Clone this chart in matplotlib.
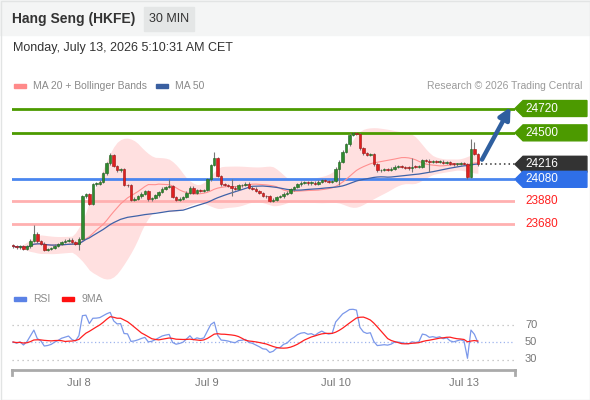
import matplotlib
matplotlib.use("Agg")
import matplotlib.pyplot as plt
import matplotlib.transforms as mtransforms
from matplotlib.patches import Rectangle, Polygon
import numpy as np
import pandas as pd

plt.rcParams['font.family'] = ['Liberation Sans', 'DejaVu Sans']

# 30 min closes, Jul 7 (night) .. Jul 13
closes = [23475, 23465, 23475, 23450, 23475, 23525, 23590, 23520, 23500, 23445,
          23450, 23460, 23480, 23495, 23515, 23525, 23535, 23510, 23500, 23545,
          23925, 23945, 23860, 24035, 24040, 24060, 24135, 24225, 24300, 24200,
          24160, 24170, 24030, 24025, 23895, 23905, 23925, 23950, 23970, 23900,
          23910, 23935, 23965, 23995, 24010, 24020, 23920, 23895, 23905, 23920,
          23960, 24005, 23960, 23985, 23975, 23985, 24080, 24210, 24270, 24110,
          24035, 24030, 24020, 24005, 23995, 24025, 24030, 24040, 24005, 23995,
          23975, 23955, 23930, 23925, 23885, 23895, 23920, 23925, 23950, 23960,
          23990, 24010, 24035, 24050, 24055, 24045, 24050, 24040, 24060, 24075,
          24065, 24060, 24065, 24175, 24240, 24330, 24395, 24485, 24495, 24490,
          24360, 24315, 24300, 24310, 24215, 24160, 24165, 24170, 24165, 24175,
          24195, 24195, 24190, 24185, 24180, 24195, 24190, 24195, 24255, 24250,
          24235, 24240, 24235, 24240, 24230, 24235, 24220, 24215, 24220, 24225,
          24220, 24105, 24350, 24310, 24216]
first_open = 23480
# visible long wicks
wick_high = {6: 23670, 28: 24320, 45: 24085, 58: 24330, 63: 24085, 98: 24510,
             115: 24270, 132: 24440, 133: 24420}
wick_low = {19: 23440, 63: 23925, 94: 24030, 115: 24150, 120: 24150, 131: 24085}

resistances = [24720, 24500]
supports = [23880, 23680]
pivot = 24080
last_price = 24216
target = 24720

day_ticks = [19, 56, 93, 130]
day_labels = ['Jul 8', 'Jul 9', 'Jul 10', 'Jul 13']
rsi_levels = [70, 50, 30]
rsi_seed = 15  # avg gain / loss carried in from before the window

W, H = 590, 400
fig = plt.figure(figsize=(W / 100, H / 100), dpi=100)


def fx(px):
    return px / W


def fy(py):
    return 1 - py / H


# header
fig.patches.append(Rectangle((0, fy(35)), 1, 35 / H, transform=fig.transFigure,
                             color='#f4f5f5', zorder=0))
fig.patches.append(Rectangle((fx(0.5), fy(399.5)), fx(589), 399 / H, transform=fig.transFigure,
                             fill=False, edgecolor='#e2e4e4', lw=1, zorder=0))
fig.patches.append(Rectangle((fx(144), fy(31)), 50 / W, 24 / H, transform=fig.transFigure,
                             color='#e4e6e6', zorder=1))
fig.text(fx(12), fy(19), 'Hang Seng (HKFE)', fontsize=10, fontweight='bold',
         color='#333333', va='center')
fig.text(fx(169), fy(19), '30 MIN', fontsize=9, color='#333333', va='center', ha='center')
fig.text(fx(13), fy(48), 'Monday, July 13, 2026 5:10:31 AM CET', fontsize=9,
         color='#333333', va='center')

# legends
fig.patches.append(Rectangle((fx(14), fy(88)), 12 / W, 4 / H, transform=fig.transFigure,
                             color='#ff8a8a'))
fig.text(fx(33), fy(86), 'MA 20 + Bollinger Bands', fontsize=7.5, color='#8a8a8a', va='center')
fig.patches.append(Rectangle((fx(156), fy(88)), 12 / W, 4 / H, transform=fig.transFigure,
                             color='#3a5fa0'))
fig.text(fx(175), fy(86), 'MA 50', fontsize=7.5, color='#8a8a8a', va='center')
fig.text(fx(582), fy(86), 'Research \u00a9 2026 Trading Central', fontsize=7.5,
         color='#9a9a9a', va='center', ha='right')

fig.patches.append(Rectangle((fx(14), fy(301)), 12 / W, 4 / H, transform=fig.transFigure,
                             color='#5b82e6'))
fig.text(fx(33), fy(299), 'RSI', fontsize=7.5, color='#8a8a8a', va='center')
fig.patches.append(Rectangle((fx(62), fy(301)), 12 / W, 4 / H, transform=fig.transFigure,
                             color='#ff1010'))
fig.text(fx(81), fy(299), '9MA', fontsize=7.5, color='#8a8a8a', va='center')

# ---- price panel
ax = fig.add_axes([fx(12), fy(285), 503 / W, 190 / H])
c = pd.Series(closes, dtype=float)
x = np.arange(len(c))
o = c.shift(1).fillna(first_open)

ma20 = c.rolling(20, min_periods=1).mean()
sd20 = c.rolling(20, min_periods=1).std(ddof=0)
upper = (ma20 + 2 * sd20).rolling(5, min_periods=1, center=True).mean()
lower = (ma20 - 2 * sd20).rolling(5, min_periods=1, center=True).mean()
ma50 = c.rolling(50, min_periods=1).mean()

ax.fill_between(x, lower, upper, color='#ffe0e0', lw=0, zorder=1)
ax.plot(x, ma20, color='#ff9090', lw=0.8, zorder=3)
ax.plot(x, ma50, color='#3f62a8', lw=0.9, zorder=3)

for lvl in resistances:
    ax.axhline(lvl, color='#4c9a00', lw=2, zorder=2)
for lvl in supports:
    ax.axhline(lvl, color='#ffb0b0', lw=2, zorder=2)
ax.axhline(pivot, color='#4a86ef', lw=2, zorder=2)

hi = np.maximum(o, c) + 12
lo = np.minimum(o, c) - 12
for k, v in wick_high.items():
    hi[k] = v
for k, v in wick_low.items():
    lo[k] = v
up = c >= o
ax.vlines(x, lo, hi, color='#777777', lw=0.8, zorder=4)
body = np.maximum((c - o).abs(), 8)
ax.bar(x[up], body[up], bottom=np.minimum(o, c)[up], width=0.72,
       color='#2e8b2e', edgecolor='#1f5f1f', lw=0.4, zorder=5)
ax.bar(x[~up], body[~up], bottom=np.minimum(o, c)[~up], width=0.72,
       color='#e02020', edgecolor='#9a1515', lw=0.4, zorder=5)

xmin, xmax = -0.3, 144.7
ax.set_xlim(xmin, xmax)
ax.set_ylim(23125, 24842)
ax.axis('off')

ax.plot([x[-1] + 0.8, xmax], [last_price, last_price], ls=(0, (1, 2)), color='#333333',
        lw=1.1, zorder=4)
ax.annotate('', xy=(143.8, target + 35), xytext=(x[-1] + 0.8, last_price + 20),
            arrowprops=dict(arrowstyle='-|>', color='#2f5f9f', lw=3.2, mutation_scale=17),
            zorder=6)

tr = mtransforms.blended_transform_factory(ax.transAxes, ax.transData)
half = 72


def tag(price, color):
    pts = [(1.0, price), (1.016, price + half), (1.143, price + half),
           (1.143, price - half), (1.016, price - half)]
    ax.add_patch(Polygon(pts, closed=True, transform=tr, color=color, clip_on=False, zorder=7))
    ax.text(1.02, price, str(price), transform=tr, color='white', fontsize=8.5,
            va='center', ha='left', zorder=8, clip_on=False)


for lvl in resistances:
    tag(lvl, '#4c9a00')
tag(last_price, '#333333')
tag(pivot, '#2f6fe8')
for lvl in supports:
    ax.text(1.02, lvl, str(lvl), transform=tr, color='#ff2020', fontsize=8.5,
            va='center', ha='left', clip_on=False)

# ---- RSI panel (Wilder, 14)
rax = fig.add_axes([fx(12), fy(370), 503 / W, 70 / H])
d = c.diff().fillna(0).to_numpy()
ag, al = rsi_seed, rsi_seed
rsi_vals = []
for dv in d:
    ag = (ag * 13 + max(dv, 0)) / 14
    al = (al * 13 + max(-dv, 0)) / 14
    rsi_vals.append(100 - 100 / (1 + ag / al))
rsi = pd.Series(rsi_vals)
rsi_ma = rsi.rolling(9, min_periods=1).mean()

rax.axhline(70, color='#bbbbbb', ls=(0, (1, 3)), lw=0.9)
rax.axhline(30, color='#bbbbbb', ls=(0, (1, 3)), lw=0.9)
rax.axhline(50, color='#9fb4ee', ls=(0, (1, 2)), lw=0.9)
rax.plot(x, rsi, color='#7b98ea', lw=0.9)
rax.plot(x, rsi_ma, color='#ff2020', lw=0.9)
rax.set_xlim(xmin, xmax)
rax.set_ylim(18, 98)
for s in ['top', 'left', 'right']:
    rax.spines[s].set_visible(False)
rax.spines['bottom'].set_color('#aaaaaa')
rax.spines['bottom'].set_linewidth(2)
rax.set_yticks([])
rax.set_xticks(day_ticks)
rax.set_xticklabels(day_labels, fontsize=8, color='#777777')
rax.tick_params(axis='x', length=0, pad=6)
for xe in [0, 1]:
    rax.plot([xe, xe], [0, -0.07], transform=rax.transAxes, color='#aaaaaa', lw=2,
             clip_on=False)
trr = mtransforms.blended_transform_factory(rax.transAxes, rax.transData)
for lv in rsi_levels:
    rax.text(1.02, lv, str(lv), transform=trr, color='#777777', fontsize=8,
             va='center', ha='left')

fig.savefig('out.png', dpi=100)
